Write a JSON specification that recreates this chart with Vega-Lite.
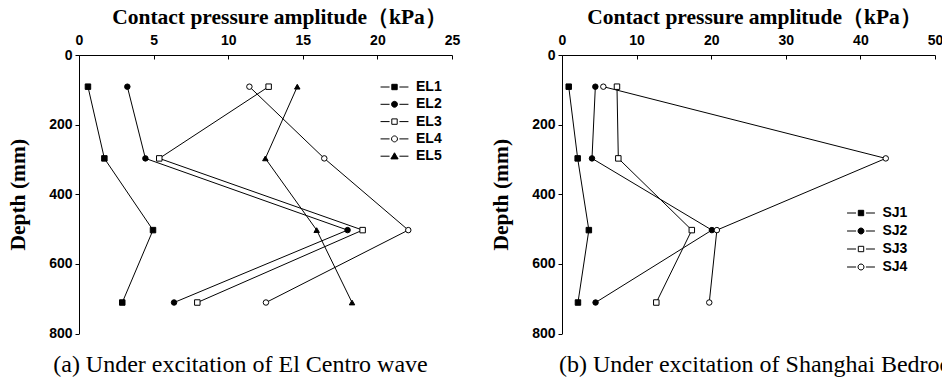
{
  "$schema": "https://vega.github.io/schema/vega-lite/v6.json",
  "padding": {"left": 7, "top": 6, "right": 0, "bottom": 0},
  "background": "white",
  "config": {
    "view": {"stroke": null},
    "axis": {
      "grid": false,
      "domainColor": "black",
      "domainWidth": 1,
      "tickColor": "black",
      "tickWidth": 1,
      "labelFont": "Liberation Sans",
      "labelFontWeight": "bold",
      "labelFontSize": 14,
      "labelColor": "black",
      "labelFlush": false,
      "labelOverlap": false,
      "titleFont": "Liberation Serif",
      "titleFontWeight": "bold",
      "titleFontSize": 21.5,
      "titleColor": "black"
    },
    "legend": {
      "labelFont": "Liberation Sans",
      "labelFontWeight": "bold",
      "labelFontSize": 14,
      "labelColor": "black"
    }
  },
  "datasets": {
    "el": [
      {"series": "EL1", "depth": 91, "amp": 0.6},
      {"series": "EL1", "depth": 297, "amp": 1.7},
      {"series": "EL1", "depth": 503, "amp": 4.96},
      {"series": "EL1", "depth": 711, "amp": 2.9},
      {"series": "EL2", "depth": 91, "amp": 3.24},
      {"series": "EL2", "depth": 297, "amp": 4.45},
      {"series": "EL2", "depth": 503, "amp": 18.0},
      {"series": "EL2", "depth": 711, "amp": 6.37},
      {"series": "EL3", "depth": 91, "amp": 12.71},
      {"series": "EL3", "depth": 297, "amp": 5.38},
      {"series": "EL3", "depth": 503, "amp": 19.01},
      {"series": "EL3", "depth": 711, "amp": 7.93},
      {"series": "EL4", "depth": 91, "amp": 11.42},
      {"series": "EL4", "depth": 297, "amp": 16.44},
      {"series": "EL4", "depth": 503, "amp": 22.07},
      {"series": "EL4", "depth": 711, "amp": 12.53},
      {"series": "EL5", "depth": 91, "amp": 14.63},
      {"series": "EL5", "depth": 297, "amp": 12.49},
      {"series": "EL5", "depth": 503, "amp": 15.93},
      {"series": "EL5", "depth": 711, "amp": 18.3}
    ],
    "sj": [
      {"series": "SJ1", "depth": 91, "amp": 0.9},
      {"series": "SJ1", "depth": 297, "amp": 2.1},
      {"series": "SJ1", "depth": 503, "amp": 3.6},
      {"series": "SJ1", "depth": 711, "amp": 2.14},
      {"series": "SJ2", "depth": 91, "amp": 4.47},
      {"series": "SJ2", "depth": 297, "amp": 4.02},
      {"series": "SJ2", "depth": 503, "amp": 20.09},
      {"series": "SJ2", "depth": 711, "amp": 4.5},
      {"series": "SJ3", "depth": 91, "amp": 7.37},
      {"series": "SJ3", "depth": 297, "amp": 7.55},
      {"series": "SJ3", "depth": 503, "amp": 17.4},
      {"series": "SJ3", "depth": 711, "amp": 12.64},
      {"series": "SJ4", "depth": 91, "amp": 5.54},
      {"series": "SJ4", "depth": 297, "amp": 43.4},
      {"series": "SJ4", "depth": 503, "amp": 20.76},
      {"series": "SJ4", "depth": 711, "amp": 19.74}
    ]
  },
  "spacing": 30,
  "resolve": {"scale": {"shape": "independent", "fill": "independent", "stroke": "independent"}},
  "hconcat": [
    {
      "width": 373,
      "height": 278.5,
      "data": {"name": "el"},
      "title": {"text": "(a) Under excitation of El Centro wave", "orient": "bottom", "anchor": "middle", "frame": "group", "dx": -25, "font": "Liberation Serif", "fontSize": 24, "fontWeight": "normal", "color": "black", "offset": 12},
      "resolve": {"scale": {"shape": "independent", "fill": "independent", "stroke": "independent"}},
      "layer": [
        {
          "mark": {"type": "line", "color": "black", "strokeWidth": 1},
          "encoding": {
            "x": {"field": "amp", "type": "quantitative", "scale": {"domain": [0, 25], "nice": false},
              "axis": {"orient": "top", "title": "Contact pressure amplitude（kPa）", "values": [0, 2.5, 5, 7.5, 10, 12.5, 15, 17.5, 20, 22.5, 25],
                "labelExpr": "datum.value % 5 === 0 ? datum.label : ''",
                "tickSize": {"condition": {"test": "datum.value % 5 === 0", "value": -4}, "value": -2},
                "labelPadding": 12, "titlePadding": 5, "titleX": 200}},
            "y": {"field": "depth", "type": "quantitative", "scale": {"domain": [0, 800], "reverse": true, "nice": false},
              "axis": {"title": "Depth (mm)", "values": [0, 100, 200, 300, 400, 500, 600, 700, 800],
                "labelExpr": "datum.value % 200 === 0 ? datum.label : ''",
                "tickSize": {"condition": {"test": "datum.value % 200 === 0", "value": 4}, "value": 2},
                "labelPadding": 3, "titlePadding": 19}},
            "detail": {"field": "series"},
            "order": {"field": "depth", "type": "quantitative"}
          }
        },
        {
          "mark": {"type": "point", "stroke": "black", "strokeWidth": 1, "opacity": 1, "size": 30},
          "encoding": {
            "x": {"field": "amp", "type": "quantitative"},
            "y": {"field": "depth", "type": "quantitative"},
            "shape": {"field": "series", "type": "nominal", "legend": null,
              "scale": {"domain": ["EL1", "EL2", "EL3", "EL4", "EL5"], "range": ["square", "circle", "square", "circle", "triangle-up"]}},
            "fill": {"field": "series", "type": "nominal", "legend": null,
              "scale": {"domain": ["EL1", "EL2", "EL3", "EL4", "EL5"], "range": ["black", "black", "white", "white", "black"]}}
          }
        },
        {
          "transform": [{"filter": "datum.depth < 0"}],
          "mark": {"type": "point", "strokeWidth": 1, "opacity": 1, "size": 324},
          "encoding": {
            "x": {"field": "amp", "type": "quantitative"},
            "y": {"field": "depth", "type": "quantitative"},
            "shape": {"field": "series", "type": "nominal",
              "scale": {"domain": ["EL1", "EL2", "EL3", "EL4", "EL5"], "range": [
                "M-1.55,0H-0.55M0.55,0H1.55M-0.3,-0.3H0.3V0.3H-0.3Z",
                "M-1.55,0H-0.55M0.55,0H1.55M-0.33,0A0.33,0.33,0,1,0,0.33,0A0.33,0.33,0,1,0,-0.33,0Z",
                "M-1.55,0H-0.55M0.55,0H1.55M-0.3,-0.3H0.3V0.3H-0.3Z",
                "M-1.55,0H-0.55M0.55,0H1.55M-0.33,0A0.33,0.33,0,1,0,0.33,0A0.33,0.33,0,1,0,-0.33,0Z",
                "M-1.55,0H-0.55M0.55,0H1.55M0,-0.38L0.4,0.3H-0.4Z"]},
              "legend": {"title": null, "orient": "none", "legendX": 306, "legendY": 22.5, "symbolSize": 324, "symbolStrokeWidth": 1, "symbolOpacity": 1, "labelOffset": 12, "rowPadding": 0.3, "padding": 0}},
            "fill": {"field": "series", "type": "nominal",
              "scale": {"domain": ["EL1", "EL2", "EL3", "EL4", "EL5"], "range": ["black", "black", "white", "white", "black"]},
              "legend": {"title": null, "orient": "none", "legendX": 306, "legendY": 22.5, "symbolSize": 324, "symbolStrokeWidth": 1, "symbolOpacity": 1, "labelOffset": 12, "rowPadding": 0.3, "padding": 0}},
            "stroke": {"field": "series", "type": "nominal",
              "scale": {"domain": ["EL1", "EL2", "EL3", "EL4", "EL5"], "range": ["black", "black", "black", "black", "black"]},
              "legend": {"title": null, "orient": "none", "legendX": 306, "legendY": 22.5, "symbolSize": 324, "symbolStrokeWidth": 1, "symbolOpacity": 1, "labelOffset": 12, "rowPadding": 0.3, "padding": 0}}
          }
        }
      ]
    },
    {
      "width": 373,
      "height": 278.5,
      "data": {"name": "sj"},
      "title": {"text": "(b) Under excitation of Shanghai Bedrock wave", "orient": "bottom", "anchor": "start", "frame": "group", "dx": -3, "font": "Liberation Serif", "fontSize": 24, "fontWeight": "normal", "color": "black", "offset": 12},
      "resolve": {"scale": {"shape": "independent", "fill": "independent", "stroke": "independent"}},
      "layer": [
        {
          "mark": {"type": "line", "color": "black", "strokeWidth": 1},
          "encoding": {
            "x": {"field": "amp", "type": "quantitative", "scale": {"domain": [0, 50], "nice": false},
              "axis": {"orient": "top", "title": "Contact pressure amplitude（kPa）", "values": [0, 5, 10, 15, 20, 25, 30, 35, 40, 45, 50],
                "labelExpr": "datum.value % 10 === 0 ? datum.label : ''",
                "tickSize": {"condition": {"test": "datum.value % 10 === 0", "value": -4}, "value": -2},
                "labelPadding": 12, "titlePadding": 5, "titleX": 192}},
            "y": {"field": "depth", "type": "quantitative", "scale": {"domain": [0, 800], "reverse": true, "nice": false},
              "axis": {"title": "Depth (mm)", "values": [0, 100, 200, 300, 400, 500, 600, 700, 800],
                "labelExpr": "datum.value % 200 === 0 ? datum.label : ''",
                "tickSize": {"condition": {"test": "datum.value % 200 === 0", "value": 4}, "value": 2},
                "labelPadding": 3, "titlePadding": 19}},
            "detail": {"field": "series"},
            "order": {"field": "depth", "type": "quantitative"}
          }
        },
        {
          "mark": {"type": "point", "stroke": "black", "strokeWidth": 1, "opacity": 1, "size": 30},
          "encoding": {
            "x": {"field": "amp", "type": "quantitative"},
            "y": {"field": "depth", "type": "quantitative"},
            "shape": {"field": "series", "type": "nominal", "legend": null,
              "scale": {"domain": ["SJ1", "SJ2", "SJ3", "SJ4"], "range": ["square", "circle", "square", "circle"]}},
            "fill": {"field": "series", "type": "nominal", "legend": null,
              "scale": {"domain": ["SJ1", "SJ2", "SJ3", "SJ4"], "range": ["black", "black", "white", "white"]}}
          }
        },
        {
          "transform": [{"filter": "datum.depth < 0"}],
          "mark": {"type": "point", "strokeWidth": 1, "opacity": 1, "size": 324},
          "encoding": {
            "x": {"field": "amp", "type": "quantitative"},
            "y": {"field": "depth", "type": "quantitative"},
            "shape": {"field": "series", "type": "nominal",
              "scale": {"domain": ["SJ1", "SJ2", "SJ3", "SJ4"], "range": [
                "M-1.55,0H-0.55M0.55,0H1.55M-0.3,-0.3H0.3V0.3H-0.3Z",
                "M-1.55,0H-0.55M0.55,0H1.55M-0.33,0A0.33,0.33,0,1,0,0.33,0A0.33,0.33,0,1,0,-0.33,0Z",
                "M-1.55,0H-0.55M0.55,0H1.55M-0.3,-0.3H0.3V0.3H-0.3Z",
                "M-1.55,0H-0.55M0.55,0H1.55M-0.33,0A0.33,0.33,0,1,0,0.33,0A0.33,0.33,0,1,0,-0.33,0Z"]},
              "legend": {"title": null, "orient": "none", "legendX": 289.5, "legendY": 148.5, "symbolSize": 324, "symbolStrokeWidth": 1, "symbolOpacity": 1, "labelOffset": 12, "rowPadding": 1, "padding": 0}},
            "fill": {"field": "series", "type": "nominal",
              "scale": {"domain": ["SJ1", "SJ2", "SJ3", "SJ4"], "range": ["black", "black", "white", "white"]},
              "legend": {"title": null, "orient": "none", "legendX": 289.5, "legendY": 148.5, "symbolSize": 324, "symbolStrokeWidth": 1, "symbolOpacity": 1, "labelOffset": 12, "rowPadding": 1, "padding": 0}},
            "stroke": {"field": "series", "type": "nominal",
              "scale": {"domain": ["SJ1", "SJ2", "SJ3", "SJ4"], "range": ["black", "black", "black", "black"]},
              "legend": {"title": null, "orient": "none", "legendX": 289.5, "legendY": 148.5, "symbolSize": 324, "symbolStrokeWidth": 1, "symbolOpacity": 1, "labelOffset": 12, "rowPadding": 1, "padding": 0}}
          }
        }
      ]
    }
  ]
}
